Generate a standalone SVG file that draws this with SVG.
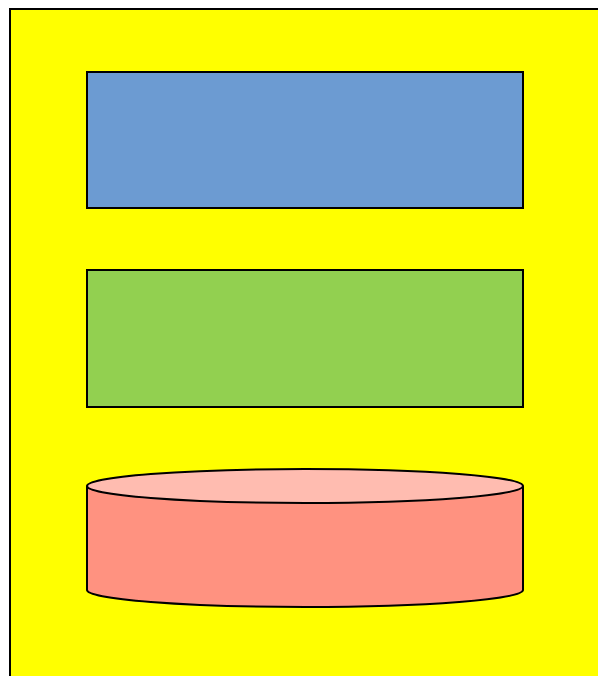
<svg xmlns="http://www.w3.org/2000/svg" width="598" height="676" viewBox="0 0 598 676">
<style>
.s{stroke:#000;stroke-width:2}
</style>
<rect width="598" height="676" fill="#fff"/>
<g id="container"><rect class="s" x="10" y="9" width="600" height="680" fill="#ffff00"/></g>
<g id="blue"><rect class="s" x="87" y="72" width="436" height="136" fill="#6c9bd2"/></g>
<g id="green"><rect class="s" x="87" y="270" width="436" height="137" fill="#92d050"/></g>
<g id="cylinder">
<path class="s" d="M87,486 L87,590 A218,17 0 0 0 523,590 L523,486" fill="#ff9280"/>
<ellipse class="s" cx="305" cy="486" rx="218" ry="17" fill="#ffbcb0"/>
</g>
<g id="connectors"/>
</svg>
